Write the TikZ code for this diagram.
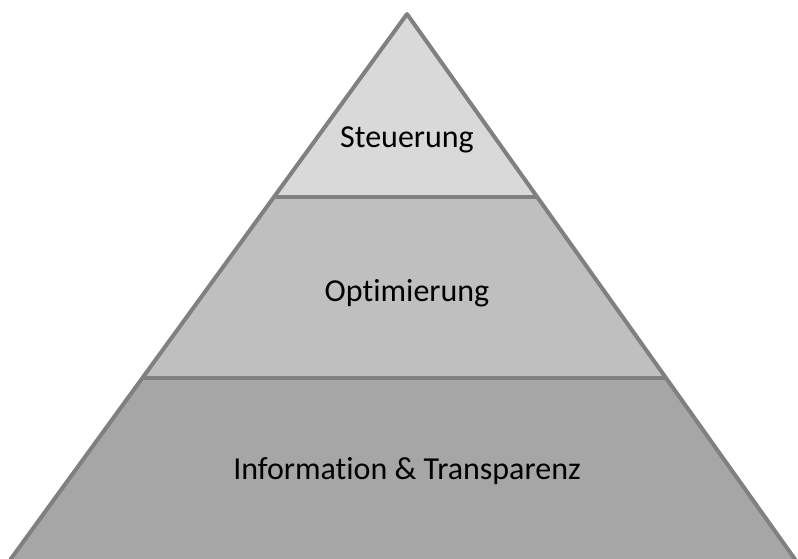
\documentclass[tikz,border=0pt]{standalone}
\usepackage{fontspec}
\setmainfont{Carlito}[Ligatures=NoCommon]
\usetikzlibrary{calc}
\definecolor{edgegray}{HTML}{808080}
\definecolor{tierA}{HTML}{D9D9D9}
\definecolor{tierB}{HTML}{BFBFBF}
\definecolor{tierC}{HTML}{A6A6A6}
\tikzset{
  outline/.style={draw=edgegray, line width=4pt, line join=round},
  tierlabel/.style={font=\fontsize{32}{38}\selectfont, text=black, inner sep=0pt},
}
\begin{document}
\begin{tikzpicture}[x=1pt,y=-1pt]
  \useasboundingbox (0,0) rectangle (798,559);
  \clip (0,0) rectangle (798,559);
  % apex and base corners (base runs below the visible area)
  \coordinate (apex) at (407,14);
  \coordinate (bl) at (-19,600);
  \coordinate (br) at (824,600);
  % tier boundaries on both flanks
  \coordinate (l1) at ($(apex)!{(197-14)/586}!(bl)$);
  \coordinate (r1) at ($(apex)!{(197-14)/586}!(br)$);
  \coordinate (l2) at ($(apex)!{(378-14)/586}!(bl)$);
  \coordinate (r2) at ($(apex)!{(378-14)/586}!(br)$);
  % tiers
  \fill[tierA] (apex) -- (l1) -- (r1) -- cycle;
  \fill[tierB] (l1) -- (l2) -- (r2) -- (r1) -- cycle;
  \fill[tierC] (l2) -- (bl) -- (br) -- (r2) -- cycle;
  % outline and dividers
  \draw[outline] (apex) -- (bl) -- (br) -- cycle;
  \draw[outline] (l1) -- (r1);
  \draw[outline] (l2) -- (r2);
  % labels
  \node[tierlabel] (t1) at (407,140) {Steuerung};
  \node[tierlabel] (t2) at (407,293) {Optimierung};
  \node[tierlabel] (t3) at (407,471) {Information \& Transparenz};
\end{tikzpicture}
\end{document}
